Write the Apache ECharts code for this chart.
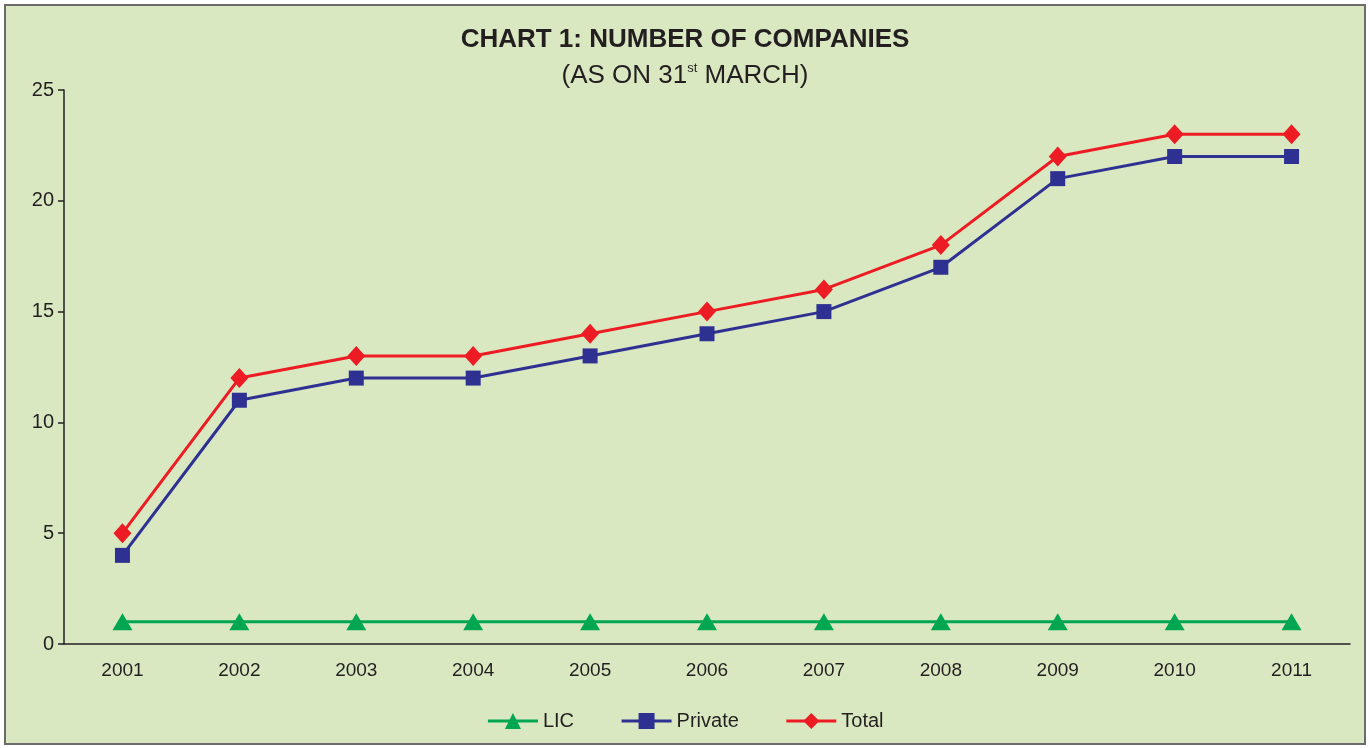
<!DOCTYPE html>
<html><head><meta charset="utf-8">
<script src="https://cdn.jsdelivr.net/npm/echarts@6/dist/echarts.min.js"></script>
<style>html,body{margin:0;padding:0;background:#fff;}#c{width:1370px;height:748px;}</style>
</head><body><div id="c"></div>
<script>
var years = ['2001','2002','2003','2004','2005','2006','2007','2008','2009','2010','2011'];
var lic = [1,1,1,1,1,1,1,1,1,1,1];
var privateCos = [4,11,12,12,13,14,15,17,21,22,22];
var total = [5,12,13,13,14,15,16,18,22,23,23];
var yTicks = [0,5,10,15,20,25];

var font = '"Liberation Sans Narrow", "Liberation Sans", Arial, sans-serif';
var chart = echarts.init(document.getElementById('c'));
chart.setOption({
  animation:false,
  graphic:[{type:'rect',z:-10,shape:{x:5,y:5,width:1360,height:739},style:{fill:'#d9e8c0',stroke:'#6b6b6b',lineWidth:2}}],
  title:{
    text:'CHART 1: NUMBER OF COMPANIES',
    subtext:'{a|(AS ON 31}{s|st}{a| MARCH)}',
    left:'center', top:22, itemGap:9,
    textStyle:{fontFamily:font,fontWeight:'bold',fontSize:26,color:'#231f20'},
    subtextStyle:{rich:{a:{fontFamily:font,fontSize:26,color:'#231f20',verticalAlign:'bottom'},s:{fontFamily:font,fontSize:13,color:'#231f20',verticalAlign:'top',padding:[0,0,14,0]}}}
  },
  legend:{
    bottom:12, left:'center', itemWidth:50, itemHeight:20, itemGap:46,
    lineStyle:{width:3},
    textStyle:{fontFamily:font,fontSize:20,color:'#231f20'},
    data:['LIC','Private','Total']
  },
  grid:{left:64,right:20,top:90,bottom:104},
  xAxis:{type:'category',data:years,boundaryGap:true,
    axisLine:{lineStyle:{color:'#231f20',width:1.5}},
    axisTick:{length:8,lineStyle:{color:'#231f20',width:1.5}},
    axisLabel:{fontFamily:font,fontSize:19,color:'#231f20',margin:17}},
  yAxis:{type:'value',min:0,max:25,interval:5,
    splitLine:{show:false},
    axisLine:{show:true,lineStyle:{color:'#231f20',width:1.5}},
    axisTick:{show:true,length:6,lineStyle:{color:'#231f20',width:1.5}},
    axisLabel:{fontFamily:font,fontSize:20,color:'#231f20',margin:10,
      formatter:function(v){return yTicks.indexOf(v)>=0?String(v):'';}}},
  series:[
    {name:'LIC',type:'line',data:lic,symbol:'triangle',symbolSize:[20,17],lineStyle:{color:'#00a651',width:3},itemStyle:{color:'#00a651'}},
    {name:'Private',type:'line',data:privateCos,symbol:'rect',symbolSize:15,lineStyle:{color:'#2e3192',width:3},itemStyle:{color:'#2e3192'}},
    {name:'Total',type:'line',data:total,symbol:'diamond',symbolSize:[18,20],lineStyle:{color:'#ed1c24',width:3},itemStyle:{color:'#ed1c24'}}
  ]
});
</script></body></html>
